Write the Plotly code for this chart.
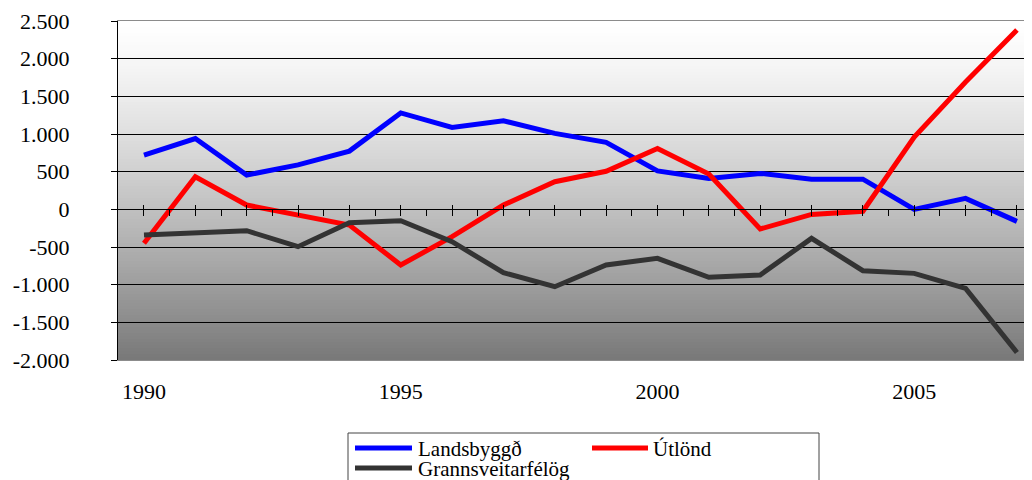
import plotly.graph_objects as go

# ---- data ----
years = list(range(1990, 2008))
landsbyggd = [720, 940, 455, 590, 773, 1280, 1087, 1175, 1008, 890, 510, 411, 477, 400, 400, 0, 145, -160]
utlond = [-451, 432, 57, -76, -208, -739, -363, 57, 366, 505, 809, 468, -261, -68, -25, 960, 1690, 2380]
grannsveitarfelog = [-341, -318, -284, -496, -178, -151, -430, -841, -1027, -739, -650, -902, -871, -385, -815, -850, -1050, -1900]

series_names = ["Landsbyggð", "Útlönd", "Grannsveitarfélög"]
series_colors = ["#0000ff", "#ff0000", "#333333"]

y_tickvals = [2500, 2000, 1500, 1000, 500, 0, -500, -1000, -1500, -2000]
y_ticktext = ["2.500", "2.000", "1.500", "1.000", "500", "0", "-500", "-1.000", "-1.500", "-2.000"]
x_tickvals = [1990, 1995, 2000, 2005]
x_ticktext = ["1990", "1995", "2000", "2005"]

# ---- layout geometry (page body has an 8px margin) ----
OFF = 8
W, H = 1032 - OFF, 480 - OFF
ML, MR, MT, MB = 118 - OFF, 0, 21 - OFF, 120
PW, PH = W - ML - MR, H - MT - MB
XR = [1989.494, 1989.494 + PW / 51.35]
YR = [-2000, 2500]
FONT = "Liberation Serif, Times New Roman, serif"


def px(xp):
    return (xp - OFF - ML) / PW


def py(yp):
    return (H - MB - (yp - OFF)) / PH


fig = go.Figure()
for name, vals, col in zip(series_names, [landsbyggd, utlond, grannsveitarfelog], series_colors):
    fig.add_trace(go.Scatter(x=years, y=vals, name=name, mode="lines",
                             line=dict(color=col, width=5), showlegend=False))

# invisible trace for the zero-line axis
fig.add_trace(go.Scatter(x=years, y=[0] * len(years), xaxis="x2", mode="lines",
                         line=dict(width=0), hoverinfo="skip", showlegend=False))

shapes = []
# gradient background
N = 113
for i in range(N):
    t = (i + 0.5) / N
    v = int(round(255 - 135 * t ** 1.3))
    shapes.append(dict(type="rect", xref="paper", yref="paper", layer="below",
                       x0=0, x1=1, y0=1 - i / N, y1=1 - (i + 1) / N,
                       line=dict(width=0), fillcolor=f"rgb({v},{v},{v})"))

# legend box
shapes.append(dict(type="rect", xref="paper", yref="paper",
                   x0=px(348), x1=px(819), y0=py(433), y1=py(495),
                   line=dict(color="#444444", width=1), fillcolor="white"))
leg_lines = [(355, 412, 448), (592, 648, 448), (355, 412, 468)]
for (x0, x1, yy), col in zip(leg_lines, series_colors):
    shapes.append(dict(type="line", xref="paper", yref="paper",
                       x0=px(x0), x1=px(x1), y0=py(yy), y1=py(yy),
                       line=dict(color=col, width=5)))

annotations = []
leg_text_pos = [(416, 449), (651, 449), (416, 469)]
for (xx, yy), name in zip(leg_text_pos, series_names):
    annotations.append(dict(text=name, xref="paper", yref="paper", x=px(xx), y=py(yy),
                            xanchor="left", yanchor="middle", showarrow=False,
                            font=dict(family=FONT, size=21, color="black")))

fig.update_layout(
    width=W, height=H,
    margin=dict(l=ML, r=MR, t=MT, b=MB, pad=0, autoexpand=False),
    paper_bgcolor="white", plot_bgcolor="rgba(0,0,0,0)",
    showlegend=False,
    shapes=shapes, annotations=annotations,
    xaxis=dict(range=XR, tickmode="array", tickvals=x_tickvals, ticktext=x_ticktext,
               showgrid=False, zeroline=False, showline=True, linecolor="#8c8c8c",
               linewidth=1, mirror=True, ticks="", ticklabelstandoff=12, automargin=False,
               tickfont=dict(family=FONT, size=22, color="black")),
    xaxis2=dict(range=XR, overlaying="x", anchor="free", position=2000 / 4500, side="bottom",
                showgrid=False, zeroline=False, showline=True, linecolor="black", linewidth=1,
                showticklabels=False, tickmode="linear", tick0=1990, dtick=1,
                ticks="inside", ticklen=4, tickcolor="black", tickwidth=1,
                minor=dict(ticks="outside", ticklen=6, tick0=1990, dtick=0.5,
                           tickcolor="black", tickwidth=1, showgrid=False)),
    yaxis=dict(range=YR, tickmode="array", tickvals=y_tickvals, ticktext=y_ticktext,
               showgrid=True, gridcolor="black", gridwidth=1, zeroline=False,
               showline=True, linecolor="black", linewidth=1, automargin=False,
               ticks="outside", ticklen=6, tickcolor="black", ticklabelstandoff=37,
               tickfont=dict(family=FONT, size=22, color="black")),
)

fig.write_html("out.html")
